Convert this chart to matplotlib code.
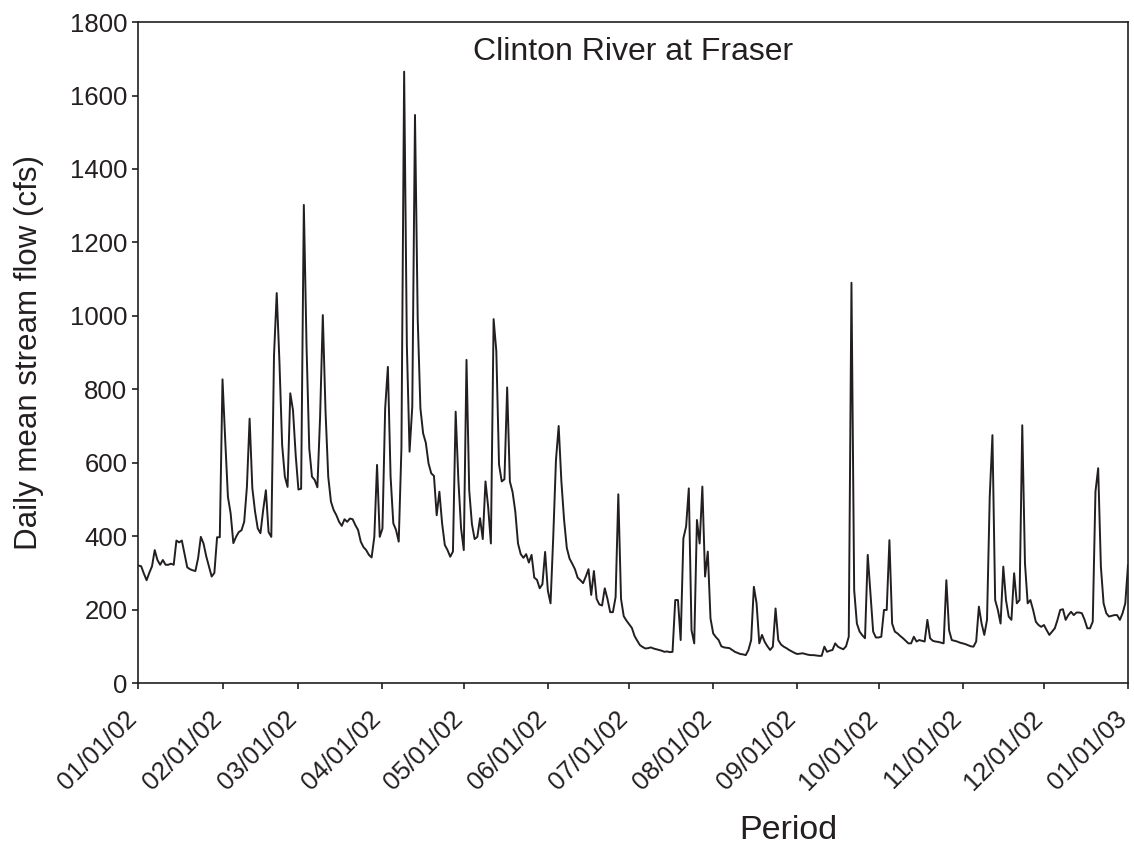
#!/usr/bin/env python3
"""
Daily mean stream flow of the Clinton River at Fraser, 2002.
"""

import pandas as pd
import matplotlib.pyplot as plt
import matplotlib.dates as mdates

plt.rcParams['font.family'] = ['Liberation Sans', 'DejaVu Sans']

# Daily mean stream flow (cfs)
jan = [320, 318, 298, 280, 300, 318, 362, 335, 322, 335, 322, 322, 325, 322, 388, 383,
       388, 352, 315, 310, 307, 305, 340, 398, 380, 345, 318, 290, 300, 397, 397]
feb = [827, 662, 507, 462, 381, 398, 411, 416, 439, 534, 720, 531, 467, 421, 408, 471,
       525, 411, 398, 893, 1062, 875, 648, 562, 534, 789, 743, 620]
mar = [527, 529, 1302, 916, 639, 562, 553, 533, 725, 1002, 740, 562, 494, 471, 457, 439,
       428, 446, 439, 448, 446, 430, 417, 385, 370, 362, 349, 342, 398, 594, 398]
apr = [421, 748, 861, 562, 435, 417, 385, 640, 1665, 920, 630, 753, 1547, 993, 748, 680,
       654, 598, 571, 564, 457, 521, 435, 376, 362, 344, 358, 739, 553, 421]
may = [362, 880, 525, 433, 392, 398, 449, 392, 549, 479, 380, 991, 904, 595, 549, 555,
       805, 549, 520, 467, 380, 351, 341, 351, 328, 349, 287, 281, 258, 269, 357]
jun = [252, 217, 398, 607, 700, 549, 444, 368, 339, 325, 310, 287, 280, 272, 290, 310,
       240, 305, 229, 214, 211, 258, 229, 193, 193, 234, 514, 229, 182, 170]
jul = [160, 150, 128, 115, 103, 98, 94, 95, 97, 94, 92, 90, 88, 85, 86, 84,
       85, 226, 226, 117, 394, 426, 530, 144, 108, 444, 380, 535, 290, 358, 176]
aug = [135, 125, 117, 100, 97, 96, 95, 90, 85, 82, 79, 78, 76, 90, 117, 262,
       217, 108, 131, 112, 100, 90, 99, 203, 117, 105, 99, 95, 90, 86, 82]
sep = [79, 80, 81, 79, 77, 76, 76, 75, 74, 74, 99, 85, 88, 90, 108, 99,
       95, 92, 100, 126, 1090, 253, 162, 140, 130, 122, 349, 244, 140, 124]
oct_ = [124, 126, 199, 199, 389, 162, 140, 135, 128, 122, 115, 108, 108, 126, 113, 117,
        115, 113, 172, 122, 115, 113, 112, 110, 108, 280, 144, 117, 115, 113, 110]
nov = [108, 106, 103, 100, 99, 113, 208, 162, 131, 172, 507, 675, 226, 199, 162, 317,
       226, 181, 172, 299, 217, 226, 702, 326, 217, 226, 199, 167, 158, 153]
dec = [158, 144, 131, 140, 149, 172, 199, 201, 172, 185, 194, 185, 192, 192, 190, 172,
       149, 149, 167, 521, 585, 317, 217, 190, 181, 183, 185, 185, 172, 190, 217]
jan03 = [321]

start_date = '2002-01-01'
end_date = '2003-01-01'


def create_flow_chart():
    """Draw the hydrograph."""
    flow = jan + feb + mar + apr + may + jun + jul + aug + sep + oct_ + nov + dec + jan03
    dates = pd.date_range(start_date, end_date, freq='D')

    fig = plt.figure(figsize=(11.34, 8.49), dpi=100)
    ax = fig.add_axes([0.1221, 0.1955, 0.8726, 0.7785])

    ink = '#231f20'
    ax.plot(dates, flow, color=ink, linewidth=1.4)

    # Axes limits and ticks
    ax.set_xlim(pd.Timestamp(start_date), pd.Timestamp(end_date))
    ax.set_ylim(0, 1800)
    ax.set_yticks(range(0, 1801, 200))
    ax.xaxis.set_major_locator(mdates.MonthLocator())
    ax.xaxis.set_major_formatter(mdates.DateFormatter('%m/%d/%y'))

    ax.tick_params(axis='both', direction='out', length=4.5, width=1.2,
                   colors=ink, labelsize=18.5)
    ax.tick_params(axis='x', pad=22)
    for lbl in ax.get_xticklabels():
        lbl.set_rotation(45)
        lbl.set_ha('right')
        lbl.set_va('baseline')
        lbl.set_rotation_mode('anchor')

    for spine in ax.spines.values():
        spine.set_linewidth(1.2)
        spine.set_color(ink)

    # Labels
    ax.set_xlabel('Period', fontsize=24.5, color=ink)
    ax.xaxis.set_label_coords(0.657, -0.2)
    ax.set_ylabel('Daily mean stream flow (cfs)', fontsize=22.5, color=ink)
    ax.yaxis.set_label_coords(-0.095, 0.5)
    ax.text(0.5, 0.955, 'Clinton River at Fraser', transform=ax.transAxes,
            ha='center', va='center', fontsize=23, color=ink)

    return fig


if __name__ == "__main__":
    fig = create_flow_chart()
    fig.savefig('out.png', dpi=100)
    plt.close(fig)
